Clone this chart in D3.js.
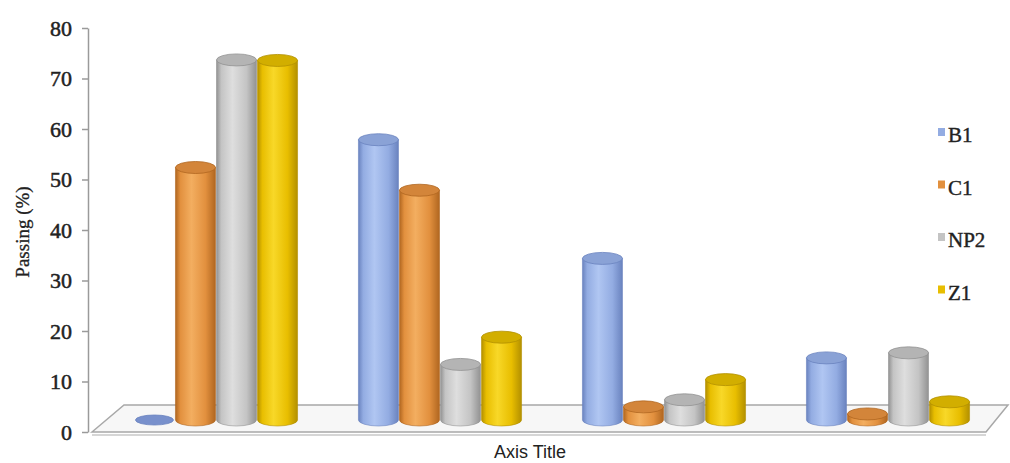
<!DOCTYPE html>
<html>
<head>
<meta charset="utf-8">
<script src="https://cdn.jsdelivr.net/npm/d3@7"></script>
<style>
  body { margin: 0; background: #fff; }
  svg { display: block; }
</style>
</head>
<body>
<script>
var categories = ['G1', 'G2', 'G3', 'G4'];
var seriesNames = ['B1', 'C1', 'NP2', 'Z1'];
var b1 = [0, 55.5, 32, 12.3];
var c1 = [50, 45.5, 2.6, 1.2];
var np2 = [71.3, 11, 4, 13.3];
var z1 = [71.2, 16.4, 8, 3.6];
var yTicks = [0, 10, 20, 30, 40, 50, 60, 70, 80];

var seriesValues = [b1, c1, np2, z1];
var palette = {
  B1:  { light: '#b0c6f2', mid: '#93ace2', dark: '#6a83bf', top: '#8aa2d6' },
  C1:  { light: '#f3ae60', mid: '#e2903e', dark: '#b06620', top: '#d3853a' },
  NP2: { light: '#dedede', mid: '#c4c4c4', dark: '#929292', top: '#b4b4b4' },
  Z1:  { light: '#f8d828', mid: '#e8be00', dark: '#b39000', top: '#d2ae00' }
};

var width = 1010, height = 463;
var svg = d3.select('body').append('svg')
    .attr('width', width)
    .attr('height', height);

var yScale = d3.scaleLinear().domain([0, 80]).range([432, 28]);
var baseShift = 12; // bars stand in the middle of the floor's depth
function yBar(v) { return yScale(v) - baseShift; }

var x0 = d3.scaleBand().domain(categories).range([104, 1000]).paddingInner(0);
var x1 = d3.scaleBand().domain(seriesNames).range([0, x0.bandwidth()]).paddingInner(0).paddingOuter(0.73);

// gradients
var defs = svg.append('defs');
seriesNames.forEach(function(s) {
  var c = palette[s];
  var g = defs.append('linearGradient').attr('id', 'grad-' + s)
      .attr('x1', '0%').attr('x2', '100%').attr('y1', '0%').attr('y2', '0%');
  g.append('stop').attr('offset', '0%').attr('stop-color', c.dark);
  g.append('stop').attr('offset', '12%').attr('stop-color', c.mid);
  g.append('stop').attr('offset', '40%').attr('stop-color', c.light);
  g.append('stop').attr('offset', '75%').attr('stop-color', c.mid);
  g.append('stop').attr('offset', '100%').attr('stop-color', c.dark);
});

// floor
var fy0 = yScale(0), depth = 27, skew = 32;
var fl = 92, fr = 986;
svg.append('path')
    .attr('d', 'M' + fl + ',' + fy0 + 'L' + (fl + skew) + ',' + (fy0 - depth) +
               'L' + (fr + skew - 10) + ',' + (fy0 - depth) + 'L' + fr + ',' + fy0 + 'Z')
    .attr('fill', '#f7f7f7')
    .attr('stroke', '#a8a8a8')
    .attr('stroke-width', 1.5);
svg.append('line')
    .attr('x1', fl).attr('x2', fr).attr('y1', fy0 + 3).attr('y2', fy0 + 3)
    .attr('stroke', '#c8c8c8').attr('stroke-width', 1.5);

// y axis
var yAxis = svg.append('g')
    .attr('transform', 'translate(88,0)')
    .call(d3.axisLeft(yScale).tickValues(yTicks).tickSize(6).tickPadding(10).tickSizeOuter(0));
yAxis.select('.domain').attr('stroke', '#9a9a9a').attr('stroke-width', 1.5);
yAxis.selectAll('.tick line').attr('stroke', '#9a9a9a').attr('stroke-width', 1.5);
yAxis.selectAll('.tick text')
    .attr('font-family', 'Liberation Serif, serif')
    .attr('font-size', 22)
    .attr('fill', '#222')
    .attr('stroke', '#222')
    .attr('stroke-width', 0.5);

// cylinders
var rows = [];
categories.forEach(function(cat, i) {
  seriesNames.forEach(function(s, j) {
    rows.push({ cat: cat, series: s, value: seriesValues[j][i] });
  });
});

var ry = 6;
var bars = svg.append('g').selectAll('g')
    .data(rows)
    .enter()
    .append('g');

bars.each(function(d) {
  var g = d3.select(this);
  var c = palette[d.series];
  var cx = x0(d.cat) + x1(d.series) + x1.bandwidth() / 2;
  var rx = x1.bandwidth() / 2 - 0.5;
  var yb = yBar(0), yt = yBar(d.value);
  if (d.value <= 0) {
    g.append('ellipse')
        .attr('cx', cx).attr('cy', yb).attr('rx', rx - 1).attr('ry', ry - 1)
        .attr('fill', '#7890cc').attr('stroke', c.dark).attr('stroke-width', 0.8);
    return;
  }
  g.append('path')
      .attr('d', 'M' + (cx - rx) + ',' + yt +
                 'L' + (cx - rx) + ',' + yb +
                 'A' + rx + ',' + ry + ' 0 0 0 ' + (cx + rx) + ',' + yb +
                 'L' + (cx + rx) + ',' + yt + 'Z')
      .attr('fill', 'url(#grad-' + d.series + ')')
      .attr('stroke', c.dark)
      .attr('stroke-width', 0.6);
  g.append('ellipse')
      .attr('cx', cx).attr('cy', yt).attr('rx', rx).attr('ry', ry)
      .attr('fill', c.top)
      .attr('stroke', c.dark)
      .attr('stroke-width', 0.8);
});

// legend
var legend = svg.append('g').selectAll('g')
    .data(seriesNames)
    .enter()
    .append('g')
    .attr('transform', function(d, i) { return 'translate(938,' + (135 + i * 52.5) + ')'; });
legend.append('rect')
    .attr('x', 0).attr('y', -7).attr('width', 7).attr('height', 8)
    .attr('fill', function(d) { return palette[d].mid; });
legend.append('text')
    .attr('x', 10).attr('y', 7)
    .attr('font-family', 'Liberation Serif, serif')
    .attr('font-size', 21)
    .attr('fill', '#222')
    .attr('stroke', '#222')
    .attr('stroke-width', 0.4)
    .text(function(d) { return d; });

// axis titles
svg.append('text')
    .attr('transform', 'translate(29,232) rotate(-90)')
    .attr('text-anchor', 'middle')
    .attr('font-family', 'Liberation Serif, serif')
    .attr('font-size', 19)
    .attr('fill', '#222')
    .attr('stroke', '#222')
    .attr('stroke-width', 0.3)
    .text('Passing (%)');
svg.append('text')
    .attr('x', 530).attr('y', 458)
    .attr('text-anchor', 'middle')
    .attr('font-family', 'Liberation Sans Narrow, Liberation Sans, sans-serif')
    .attr('font-size', 18)
    .attr('fill', '#222')
    .text('Axis Title');
</script>
</body>
</html>
